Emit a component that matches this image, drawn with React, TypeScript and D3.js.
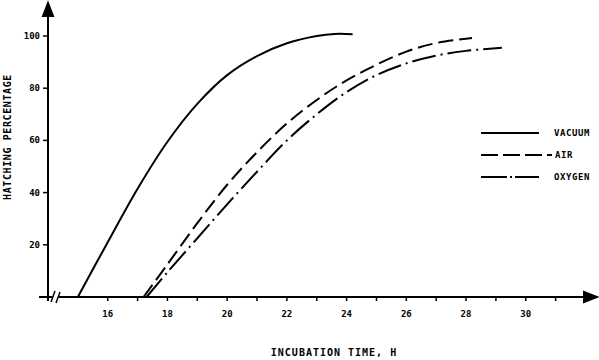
import React, { useEffect, useRef } from 'react';
import * as d3 from 'd3';

// hatching percentage vs incubation time (hours)
const vacuumHours = [15.0, 16, 17, 18, 19, 20, 21, 22, 23, 23.6, 24.2];
const vacuumPct = [0, 21, 41.5, 59.5, 74, 85, 92.3, 97.2, 100, 100.8, 100.7];

const airHours = [17.2, 18, 19, 20, 21, 22, 23, 24, 25, 26, 27, 28.2];
const airPct = [0, 12.5, 28.3, 43, 55.5, 66.5, 75.5, 83, 89, 94, 97.3, 99.2];

const oxygenHours = [17.3, 18, 19, 20, 21, 22, 23, 24, 25, 26, 27, 28, 29.2];
const oxygenPct = [0, 9.5, 22.5, 35.5, 48, 60, 70, 78.5, 85, 89.5, 92.5, 94.3, 95.5];

const seriesNames = ['VACUUM', 'AIR', 'OXYGEN'];
const xTickValues = [16, 17, 18, 19, 20, 21, 22, 23, 24, 25, 26, 27, 28, 29, 30, 31];
const xTickLabels = [16, 18, 20, 22, 24, 26, 28, 30];
const yTickValues = [20, 40, 60, 80, 100];

const FONT = '"DejaVu Sans Mono", monospace';

const App: React.FC = () => {
  const svgRef = useRef<SVGSVGElement>(null);

  useEffect(() => {
    if (!svgRef.current) return;
    const svg = d3.select(svgRef.current);
    svg.selectAll('*').remove();

    const x = d3.scaleLinear().domain([14, 31]).range([48, 48 + 17 * 29.86]);
    const y = d3.scaleLinear().domain([0, 100]).range([297, 36]);
    const y0 = y(0);
    const x0 = x(14);

    const ink = '#000';

    // axes
    const axes = svg.append('g').attr('stroke', ink).attr('stroke-width', 2).attr('fill', 'none');
    axes.append('line').attr('x1', x0).attr('x2', x0).attr('y1', y0 + 4).attr('y2', 12);
    axes.append('path').attr('d', `M${x0 - 5},16 L${x0},3 L${x0 + 5},16 Z`).attr('fill', ink);

    axes.append('line').attr('x1', 39).attr('x2', 52).attr('y1', y0).attr('y2', y0);
    axes.append('line').attr('x1', 59).attr('x2', 586).attr('y1', y0).attr('y2', y0);
    axes.append('path').attr('d', `M584,${y0 - 5} L597,${y0} L584,${y0 + 5} Z`).attr('fill', ink);

    // axis break
    axes.append('line').attr('x1', 51).attr('x2', 55).attr('y1', y0 + 5).attr('y2', y0 - 6).attr('stroke-width', 1.5);
    axes.append('line').attr('x1', 56).attr('x2', 60).attr('y1', y0 + 6).attr('y2', y0 - 5).attr('stroke-width', 1.5);

    // ticks
    axes.selectAll('.xt')
      .data(xTickValues)
      .join('line')
      .attr('x1', d => x(d)).attr('x2', d => x(d))
      .attr('y1', y0).attr('y2', y0 + 4)
      .attr('stroke-width', 1.5);

    axes.selectAll('.yt')
      .data(yTickValues)
      .join('line')
      .attr('x1', x0 - 5).attr('x2', x0)
      .attr('y1', d => y(d)).attr('y2', d => y(d))
      .attr('stroke-width', 1.5);

    const labels = svg.append('g')
      .attr('fill', ink)
      .style('font-family', FONT)
      .style('font-weight', 'bold')
      .style('font-size', '9px');

    labels.selectAll('.xl')
      .data(xTickLabels)
      .join('text')
      .attr('x', d => x(d))
      .attr('y', 317)
      .attr('text-anchor', 'middle')
      .text(d => d);

    labels.selectAll('.yl')
      .data(yTickValues)
      .join('text')
      .attr('x', 40)
      .attr('y', d => y(d) + 3)
      .attr('text-anchor', 'end')
      .text(d => d);

    // axis titles
    labels.append('text')
      .attr('x', 334)
      .attr('y', 356)
      .attr('text-anchor', 'middle')
      .style('font-size', '10px')
      .style('letter-spacing', '1px')
      .text('INCUBATION TIME, H');

    labels.append('text')
      .attr('transform', 'translate(11,137) rotate(-90)')
      .attr('text-anchor', 'middle')
      .style('font-size', '10px')
      .style('letter-spacing', '0.6px')
      .text('HATCHING PERCENTAGE');

    // curves
    const line = d3.line<[number, number]>()
      .x(d => x(d[0]))
      .y(d => y(d[1]))
      .curve(d3.curveCatmullRom.alpha(0.5));

    const series = [
      { pts: vacuumHours.map((h, i) => [h, vacuumPct[i]] as [number, number]), dash: null },
      { pts: airHours.map((h, i) => [h, airPct[i]] as [number, number]), dash: '15,6' },
      { pts: oxygenHours.map((h, i) => [h, oxygenPct[i]] as [number, number]), dash: '24,5,2,5' }
    ];

    svg.append('g')
      .selectAll('path')
      .data(series)
      .join('path')
      .attr('d', d => line(d.pts))
      .attr('fill', 'none')
      .attr('stroke', ink)
      .attr('stroke-width', 2)
      .attr('stroke-dasharray', d => d.dash);

    // legend
    const legendY = [133, 155, 177];
    const legend = svg.append('g');
    legend.selectAll('line')
      .data(series)
      .join('line')
      .attr('x1', 481).attr('x2', (d, i) => (i === 1 ? 552 : 539))
      .attr('y1', (d, i) => legendY[i]).attr('y2', (d, i) => legendY[i])
      .attr('stroke', ink)
      .attr('stroke-width', 2)
      .attr('stroke-dasharray', (d, i) => (i === 1 ? '17,5' : i === 2 ? '26,3,2,3' : null));

    legend.selectAll('text')
      .data(seriesNames)
      .join('text')
      .attr('x', (d, i) => (i === 1 ? 555 : 554))
      .attr('y', (d, i) => legendY[i] + 3)
      .attr('fill', ink)
      .style('font-family', FONT)
      .style('font-weight', 'bold')
      .style('font-size', '9px')
      .style('letter-spacing', '0.6px')
      .text(d => d);
  }, []);

  return (
    <svg
      ref={svgRef}
      width={599}
      height={360}
      style={{ position: 'absolute', left: 0, top: 0, background: '#fff' }}
    />
  );
};

export default App;
